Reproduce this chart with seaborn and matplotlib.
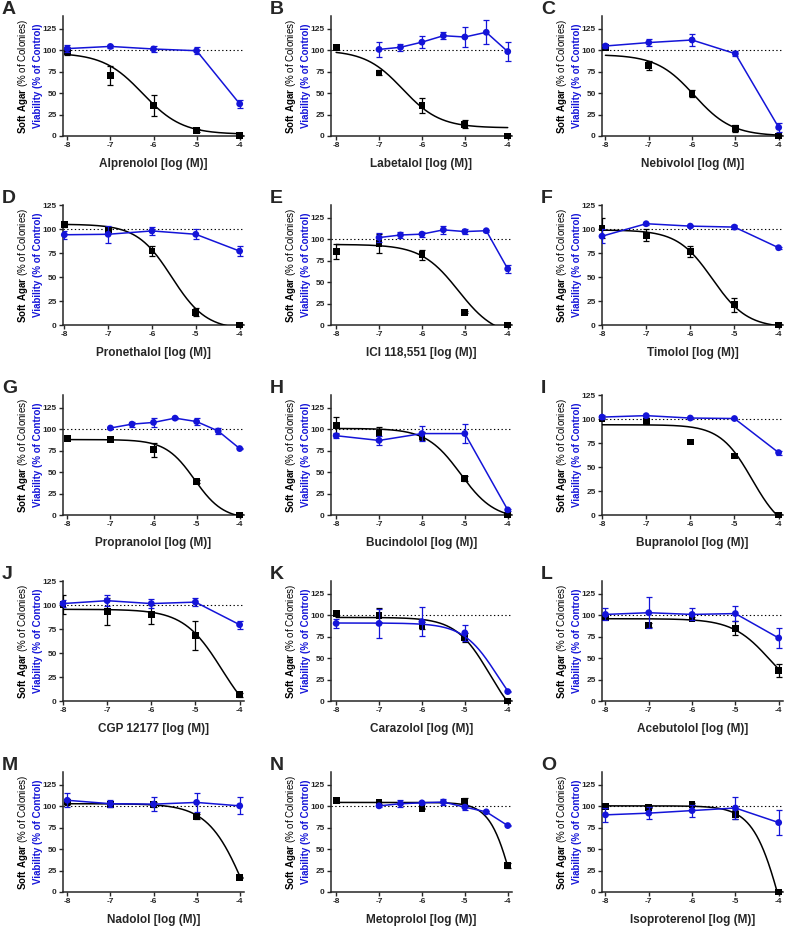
import numpy as np
import seaborn as sns
import matplotlib.pyplot as plt
from matplotlib.transforms import offset_copy

# ---- data ----
letters = list("ABCDEFGHIJKLMNO")
drugs = ["Alprenolol", "Labetalol", "Nebivolol", "Pronethalol", "ICI 118,551", "Timolol",
         "Propranolol", "Bucindolol", "Bupranolol", "CGP 12177", "Carazolol", "Acebutolol",
         "Nadolol", "Metoprolol", "Isoproterenol"]

log_dose = [-8, -7, -6, -5, -4]
half_log_dose = [-7, -6.5, -6, -5.5, -5, -4.5, -4]

# soft agar colonies (% of control), mean and SEM
agar_mean = [
    [99, 70.5, 35.7, 6.7, 0.5], [102.8, 73.6, 35.4, 13.8, 0], [103.6, 82, 49.5, 8.6, 0],
    [104.5, 99, 77, 13.2, 0], [86, 95.5, 82, 15, 0], [101, 93.5, 76.5, 21, 0],
    [89.5, 88, 76, 39, 0], [104, 95, 92, 43, 0], [100.5, 97.7, 76, 61.5, 0],
    [100.5, 93, 90, 68.5, 6.5], [102, 100, 88.5, 74, 0], [97.5, 88.5, 96.5, 85, 35.5],
    [105, 102, 102, 88, 17], [107, 104, 97.5, 105.5, 31], [100, 98.5, 102.5, 90.5, 0],
]
agar_sem = [
    [5, 11, 12, 1.5, 1], [1.5, 3, 9, 5, 1], [2, 5, 4, 4, 1],
    [2, 3, 5, 4, 1], [9, 11, 6, 1, 1], [10, 6, 6, 7, 1],
    [1, 1, 8, 1.5, 1], [10, 8, 5, 3, 1], [1, 3, 1, 1, 1],
    [10, 14, 10, 15, 2], [1, 8, 4, 5, 1], [1, 2, 2, 8, 8],
    [3, 3, 3, 3, 1], [1, 1, 1, 4, 3], [1, 1, 1, 5, 1],
]

# viability (% of control)
viab_dose = [log_dose, half_log_dose, log_dose, log_dose, half_log_dose, log_dose,
             half_log_dose, log_dose, log_dose, log_dose, log_dose, log_dose,
             log_dose, half_log_dose, log_dose]
viab_mean = [
    [102, 104.5, 101.5, 99.5, 37.5], [101, 103.5, 109.5, 117, 115.5, 121, 98.5],
    [105, 109, 112, 96, 10], [94, 94.5, 98, 94.5, 77],
    [102, 105, 106, 111, 109, 110, 65.5], [92.5, 105.5, 103, 102, 80.5],
    [101.5, 106, 108, 113, 109, 98, 77.5], [92.5, 87, 95, 95, 6],
    [102, 103.5, 101, 100.5, 65], [101.5, 104.5, 101.5, 103, 79.5],
    [90.5, 90.5, 92.5, 79.5, 11], [101, 103, 101, 102, 73.5],
    [107, 103, 102.5, 104.5, 100.5], [100.5, 103, 104, 105, 99, 93.5, 77.5],
    [90, 92, 95, 98, 81],
]
viab_sem = [
    [4, 1.5, 3, 4, 5], [9, 4, 7, 4, 12, 14, 11], [2, 4, 7, 3, 5], [4, 9, 4, 5, 5],
    [5, 4, 3, 5, 3, 1, 5], [7, 1, 1, 2, 1], [1.5, 3, 5, 1, 4, 3, 1], [3, 5, 9, 11, 1],
    [2, 1, 1, 1, 2], [4, 6, 5, 4, 4], [5, 17, 17, 9, 1], [7, 18, 7, 9, 12],
    [8, 4, 8, 11, 10], [1.5, 4, 1.5, 4, 3, 1, 1], [8, 7, 7, 13, 15],
]

# fitted dose-response curves for soft agar (top, bottom, logIC50, hill)
fit_top = [97, 100, 95, 105, 94, 99, 88, 101, 94, 95.5, 97.5, 96, 103, 104.5, 100.5]
fit_bottom = [2, 9.5, 0, -5, -14, -3, -5, -5, -20, -30, -35, 0, -100, -100, -150]
fit_logic50 = [-6.25, -6.45, -5.95, -5.55, -5.15, -5.5, -5.05, -5.1, -4.6, -4.4,
               -4.42, -4.2, -3.85, -3.85, -3.9]
fit_hill = [0.95, 1.0, 1.0, 1.1, 1.0, 1.1, 1.3, 1.1, 1.2, 1.0, 1.1, 1.0, 1.0, 1.6, 1.3]
# Carazolol viability is shown as a fitted curve as well
viab_fit = {10: (91, -30, -4.25, 1.1)}

y_top = [140, 140, 140, 125, 140, 125, 140, 140, 125, 125, 140, 140, 140, 140, 140]
x_left = [-8.1, -8.12, -8.08, -8.03, -8.12, -8.0, -8.1, -8.12, -8.0, -8.0,
          -8.12, -8.08, -8.1, -8.12, -8.08]

BLUE = "#1414d8"


def four_pl(x, top, bottom, logic50, hill):
    return bottom + (top - bottom) / (1 + 10 ** ((x - logic50) * hill))


sns.set_style("ticks")
plt.rcParams["font.family"] = ["Liberation Sans", "DejaVu Sans"]
plt.rcParams["mathtext.fontset"] = "custom"
plt.rcParams["mathtext.rm"] = "Liberation Sans"
plt.rcParams["mathtext.bf"] = "Liberation Sans:bold"
plt.rcParams["axes.unicode_minus"] = False

W, H = 786, 927
fig = plt.figure(figsize=(W / 100, H / 100), dpi=100)

col_left = [63, 331, 602]
row_bottom = [136, 325, 515, 701, 892]
ax_w, ax_h = 181, 120

xs = np.linspace(-8, -4, 300)

for i, letter in enumerate(letters):
    r, c = divmod(i, 3)
    L, B = col_left[c], row_bottom[r]
    ax = fig.add_axes([L / W, 1 - B / H, ax_w / W, ax_h / H])

    # dotted 100% reference
    ax.axhline(100, color="black", ls=(0, (1.2, 2.2)), lw=0.8, zorder=1)

    # soft agar: fitted curve + squares with SEM
    sns.lineplot(x=xs, y=four_pl(xs, fit_top[i], fit_bottom[i], fit_logic50[i], fit_hill[i]),
                 ax=ax, color="black", lw=1.1, zorder=3)
    ax.errorbar(log_dose, agar_mean[i], yerr=agar_sem[i], fmt="none", ecolor="black",
                elinewidth=0.9, capsize=2.2, capthick=0.9, zorder=4)
    sns.scatterplot(x=log_dose, y=agar_mean[i], ax=ax, marker="s", s=24, color="black",
                    edgecolor="none", zorder=5, clip_on=False)

    # viability
    vx, vy = viab_dose[i], viab_mean[i]
    ax.errorbar(vx, vy, yerr=viab_sem[i], fmt="none", ecolor=BLUE,
                elinewidth=0.9, capsize=2.2, capthick=0.9, zorder=6)
    if i in viab_fit:
        sns.lineplot(x=xs, y=four_pl(xs, *viab_fit[i]), ax=ax, color=BLUE, lw=1.1, zorder=6)
    else:
        sns.lineplot(x=vx, y=vy, ax=ax, color=BLUE, lw=1.1, zorder=6)
    sns.scatterplot(x=vx, y=vy, ax=ax, marker="o", s=24, color=BLUE,
                    edgecolor="none", zorder=7, clip_on=False)

    ax.set_xlim(x_left[i], -3.9)
    ax.set_ylim(0, y_top[i])
    ax.set_xticks(log_dose)
    ax.set_yticks([0, 25, 50, 75, 100, 125])
    ax.tick_params(labelsize=6, width=1, length=3, pad=1.5)
    for lab in ax.get_xticklabels() + ax.get_yticklabels():
        lab.set_fontweight("bold")
    sns.despine(ax=ax)
    for sp in ("left", "bottom"):
        ax.spines[sp].set_linewidth(1.1)

    ax.set_xlabel(f"{drugs[i]} [log (M)]", fontsize=8.5, fontweight="bold", labelpad=6.5)
    ax.set_ylabel("")

    ax.text(0, 0.5, r"$\mathbf{Soft\ Agar}$ (% of Colonies)", rotation=90, ha="center",
            va="center", fontsize=7, color="black",
            transform=offset_copy(ax.transAxes, fig=fig, x=-40, y=0, units="dots"))
    ax.text(0, 0.5, "Viability (% of Control)", rotation=90, ha="center", va="center",
            fontsize=7, fontweight="bold", color=BLUE,
            transform=offset_copy(ax.transAxes, fig=fig, x=-25, y=0, units="dots"))

    fig.text((L - 61) / W, 1 - (B - ax_h - 15) / H, letter, ha="left", va="top",
             fontsize=14, fontweight="bold")

fig.savefig("out.png", dpi=100)
